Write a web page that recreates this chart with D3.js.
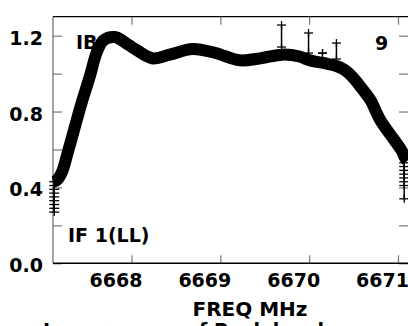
<!DOCTYPE html>
<html><head><meta charset="utf-8">
<script src="https://cdn.jsdelivr.net/npm/d3@7"></script>
<style>html,body{margin:0;padding:0;background:#fff;overflow:hidden}</style>
</head><body>
<svg id="c" width="408" height="326"></svg>
<script>
// Spectrum (frequency in MHz, amplitude)
const freq = [6667.116,6667.161,6667.217,6667.284,6667.362,6667.441,6667.531,6667.610,6667.688,6667.812,6667.925,6668.037,6668.239,6668.430,6668.689,6668.936,6669.217,6669.442,6669.700,6669.891,6670.003,6670.172,6670.307,6670.397,6670.487,6670.588,6670.689,6670.801,6670.958,6671.037,6671.082,6671.105];
const amp  = [0.43,0.439,0.481,0.587,0.719,0.850,0.986,1.114,1.177,1.193,1.165,1.13,1.08,1.10,1.13,1.11,1.07,1.08,1.10,1.09,1.07,1.055,1.04,1.02,0.983,0.925,0.861,0.755,0.65,0.597,0.555,0.54];
// Noisy channels drawn with error bars
const outFreq = [6669.689,6669.993,6670.150,6670.307];
const outAmp  = [1.198,1.161,1.108,1.119];
const outErr  = [0.058,0.053,0.0,0.042];
// Stacked noisy points at the band edges
const leftTailFreq = 6667.13;
const leftTailAmp  = [0.43,0.41,0.39,0.37,0.35,0.33,0.31,0.29,0.27];
const rightTailFreq = 6671.07;
const rightTailAmp = [0.55,0.53,0.51,0.49,0.47,0.45,0.43,0.41,0.34];
const xTicks = [6668,6669,6670,6671];
const yTicks = [0,0.2,0.4,0.6,0.8,1.0,1.2];
const yLabeled = [0,0.4,0.8,1.2];

const svg = d3.select("#c");
const L=53,R=409,T=16.7,B=263.3;
const x = d3.scaleLinear().domain([6667.116,6671.124]).range([L,R]);
const y = d3.scaleLinear().domain([0,1.3]).range([B,T]);
const font = "'DejaVu Sans', sans-serif";

// axes (inward ticks)
const gB = svg.append("g").attr("transform",`translate(0,${B})`)
  .call(d3.axisBottom(x).tickValues(xTicks).tickSizeInner(-8).tickSizeOuter(0).tickPadding(10).tickFormat(d3.format("d")));
gB.selectAll("text").attr("dx",-16);
const gT = svg.append("g").attr("transform",`translate(0,${T})`)
  .call(d3.axisTop(x).tickValues(xTicks).tickSizeInner(-8).tickSizeOuter(0).tickFormat(""));
const gL = svg.append("g").attr("transform",`translate(${L},0)`)
  .call(d3.axisLeft(y).tickValues(yTicks).tickSizeInner(-9).tickSizeOuter(0).tickPadding(10)
  .tickFormat(d=> yLabeled.some(v=>Math.abs(v-d)<1e-9)? d3.format(".1f")(d):""));
gL.selectAll("text").attr("dy","0.45em");
const gR = svg.append("g").attr("transform",`translate(${R-1},0)`)
  .call(d3.axisRight(y).tickValues(yTicks).tickSizeInner(-9).tickSizeOuter(0).tickFormat(""));
[gB,gT,gL,gR].forEach(g=>{
  g.select(".domain").remove();
  g.selectAll(".tick line").attr("stroke","#777").attr("stroke-width",1.2);
  g.selectAll("text").attr("fill","#000").style("font-family",font).style("font-weight","bold").style("font-size","19px");
});
// frame
svg.append("line").attr("x1",L).attr("x2",L).attr("y1",T).attr("y2",B).attr("stroke","#666").attr("stroke-width",1.2);
svg.append("line").attr("x1",L).attr("x2",R).attr("y1",T).attr("y2",T).attr("stroke","#000").attr("stroke-width",1.2);
svg.append("line").attr("x1",L).attr("x2",R).attr("y1",B).attr("y2",B).attr("stroke","#000").attr("stroke-width",1.5);

// main thick band
svg.append("path").datum(freq.map((f,i)=>[f,amp[i]]))
  .attr("d", d3.line().x(d=>x(d[0])).y(d=>y(d[1])).curve(d3.curveCatmullRom))
  .attr("fill","none").attr("stroke","#000").attr("stroke-width",12).attr("stroke-linejoin","round");

function cross(cx,cy,w){
  svg.append("line").attr("x1",cx-w/2).attr("x2",cx+w/2).attr("y1",cy).attr("y2",cy).attr("stroke","#000").attr("stroke-width",1.3);
  svg.append("line").attr("x1",cx).attr("x2",cx).attr("y1",cy-4).attr("y2",cy+4).attr("stroke","#000").attr("stroke-width",1.3);
}
// error-bar outliers
outFreq.forEach((f,i)=>{
  const cx=x(f), y0=y(outAmp[i]-outErr[i]), y1=y(outAmp[i]+outErr[i]);
  svg.append("line").attr("x1",cx).attr("x2",cx).attr("y1",y1).attr("y2",y0).attr("stroke","#000").attr("stroke-width",1.5);
  cross(cx,y1,9); cross(cx,y0,9);
});
// edge stacks
function stack(f,vals){
  const cx=x(f);
  svg.append("line").attr("x1",cx).attr("x2",cx).attr("y1",y(d3.max(vals))).attr("y2",y(d3.min(vals))).attr("stroke","#000").attr("stroke-width",1.5);
  vals.forEach(v=>cross(cx,y(v),10));
}
stack(leftTailFreq,leftTailAmp);
stack(rightTailFreq,rightTailAmp);

function txt(s,xx,yy,anchor,size){
  svg.append("text").attr("x",xx).attr("y",yy).attr("text-anchor",anchor||"start")
    .style("font-family",font).style("font-weight","bold").style("font-size",(size||19)+"px")
    .attr("fill","#000").text(s);
}
txt("IB",76,49);
txt("9",375,50);
txt("IF 1(LL)",68,242);
txt("FREQ MHz",250,316,"middle",20);
txt("Lower",43,337);
txt("of Peak level",186,337);
</script>
</body></html>
